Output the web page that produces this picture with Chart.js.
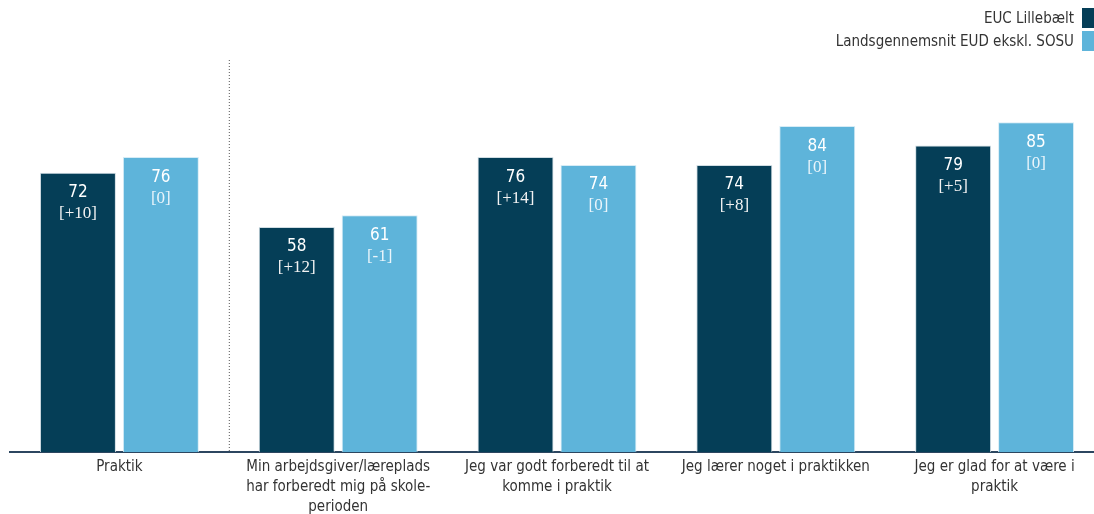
<!DOCTYPE html>
<html>
<head>
<meta charset="utf-8">
<script src="https://cdn.jsdelivr.net/npm/chart.js@4.4.0/dist/chart.umd.min.js"></script>
<style>
    body { margin: 0; background: #fff; overflow: hidden; }
    #wrap { position: relative; width: 1094px; height: 514px; overflow: hidden; }
    #box { position: absolute; left: 0; top: 0; width: 1110px; height: 514px; }
    .legend { position: absolute; right: 0; font-family: 'DejaVu Sans Condensed', 'DejaVu Sans', sans-serif; font-size: 15px; color: #333; }
    .legend span.sw { display: inline-block; width: 12px; height: 20px; vertical-align: middle; margin-left: 8px; }
</style>
</head>
<body>
<div id="wrap">
    <div id="box"><canvas id="mainChart" width="1110" height="514"></canvas></div>
    <div class="legend" style="top:8px">EUC Lillebælt<span class="sw" style="background:#053e57"></span></div>
    <div class="legend" style="top:31px">Landsgennemsnit EUD ekskl. SOSU<span class="sw" style="background:#5eb4da"></span></div>
</div>
<script>
const categories = [
    ['Praktik'],
    ['Min arbejdsgiver/læreplads', 'har forberedt mig på skole-', 'perioden'],
    ['Jeg var godt forberedt til at', 'komme i praktik'],
    ['Jeg lærer noget i praktikken'],
    ['Jeg er glad for at være i', 'praktik']
];
const seriesNames = ['EUC Lillebælt', 'Landsgennemsnit EUD ekskl. SOSU'];
const eucValues = [72, 58, 76, 74, 79];
const landsValues = [76, 61, 74, 84, 85];
const eucDiff = ['[+10]', '[+12]', '[+14]', '[+8]', '[+5]'];
const landsDiff = ['[0]', '[-1]', '[0]', '[0]', '[0]'];

const mainFont = "'DejaVu Sans Condensed', 'DejaVu Sans', sans-serif";

// labels inside the bars and the dotted divider after "Praktik"
const barLabels = {
    id: 'barLabels',
    afterDatasetsDraw(chart) {
        const ctx = chart.ctx;
        const diffs = [eucDiff, landsDiff];
        ctx.save();
        ctx.textAlign = 'center';
        ctx.textBaseline = 'middle';
        chart.data.datasets.forEach((ds, i) => {
            chart.getDatasetMeta(i).data.forEach((bar, j) => {
                ctx.fillStyle = '#ffffff';
                ctx.font = "17px " + mainFont;
                ctx.fillText(ds.data[j], bar.x, bar.y + 20);
                ctx.fillStyle = i === 0 ? '#f2f2f2' : '#eaf5fb';
                ctx.font = "17px 'Liberation Serif', serif";
                ctx.fillText(diffs[i][j], bar.x, bar.y + 41);
            });
        });
        // divider
        const x = chart.scales.x;
        const xs = (x.getPixelForValue(0) + x.getPixelForValue(1)) / 2;
        ctx.strokeStyle = '#555';
        ctx.lineWidth = 1;
        ctx.setLineDash([1, 2]);
        ctx.beginPath();
        ctx.moveTo(xs + 0.5, 60);
        ctx.lineTo(xs + 0.5, chart.chartArea.bottom);
        ctx.stroke();
        ctx.restore();
    }
};

const ctx = document.getElementById('mainChart').getContext('2d');
const mainChart = new Chart(ctx, {
    type: 'bar',
    data: {
        labels: categories,
        datasets: [{
            label: seriesNames[0],
            data: eucValues,
            backgroundColor: '#053e57',
            borderColor: '#d0dde3',
            borderWidth: 1,
            barPercentage: 0.916,
            categoryPercentage: 0.758
        }, {
            label: seriesNames[1],
            data: landsValues,
            backgroundColor: '#5eb4da',
            borderColor: '#d6ecf6',
            borderWidth: 1,
            barPercentage: 0.916,
            categoryPercentage: 0.758
        }]
    },
    options: {
        responsive: false,
        animation: false,
        layout: { padding: { top: 64, left: 10, right: 6, bottom: 0 } },
        plugins: {
            legend: { display: false },
            tooltip: { enabled: false }
        },
        scales: {
            y: {
                display: false,
                min: 0,
                max: 100
            },
            x: {
                grid: { display: false, drawTicks: false },
                border: { display: true, color: '#2c4660', width: 2 },
                ticks: {
                    color: '#333',
                    padding: 5,
                    maxRotation: 0,
                    autoSkip: false,
                    font: { family: mainFont, size: 15, lineHeight: 1.33 }
                },
                afterFit(scale) { scale.height = 62; }
            }
        }
    },
    plugins: [barLabels]
});
</script>
</body>
</html>
